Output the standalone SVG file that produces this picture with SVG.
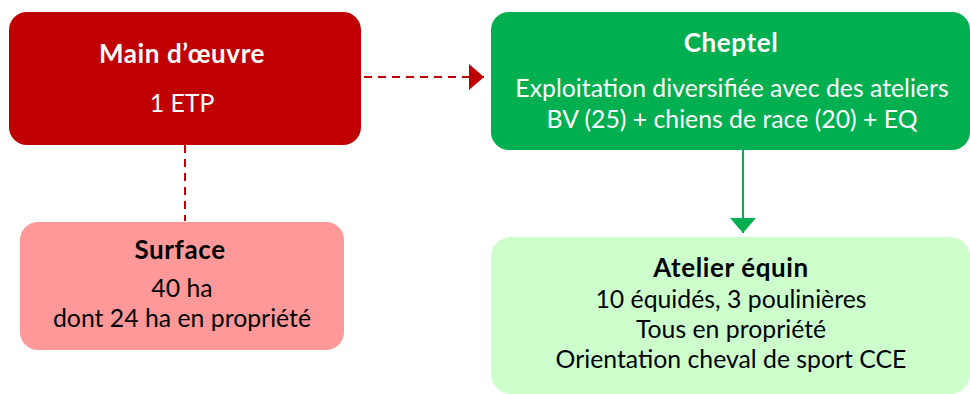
<svg xmlns="http://www.w3.org/2000/svg" width="970" height="394" viewBox="0 0 970 394">
<style>
text{font-family:Lato,"Liberation Sans",sans-serif;font-size:24.8px;text-anchor:middle}
.b{font-weight:bold;font-size:26px;letter-spacing:0.6px}
.w{fill:#ffffff}
.k{fill:#000000}
.dash{stroke:#C00000;stroke-width:2;stroke-dasharray:8,6;fill:none}
.solid{stroke:#00B050;stroke-width:2;fill:none}
</style>
<defs>
<marker id="ar" markerWidth="16" markerHeight="26" refX="15" refY="13" orient="auto" markerUnits="userSpaceOnUse"><path d="M0,0 L15,13 L0,26 Z" fill="#C00000"/></marker>
<marker id="ag" markerWidth="16" markerHeight="26" refX="15" refY="13" orient="auto" markerUnits="userSpaceOnUse"><path d="M0,0 L15,13 L0,26 Z" fill="#00B050"/></marker>
</defs>
<g id="connectors">
<path class="dash" d="M364,77 H484" marker-end="url(#ar)"/>
<path class="dash" d="M185,145 V221"/>
<path class="solid" d="M743,150 V233" marker-end="url(#ag)"/>
</g>
<g id="main-oeuvre">
<rect x="9" y="12" width="352" height="133" rx="18" fill="#C00000"/>
<text class="b w" x="182" y="63">Main d’œuvre</text>
<text class="w" x="182" y="112">1 ETP</text>
</g>
<g id="cheptel">
<rect x="491" y="12" width="479" height="138" rx="18" fill="#00B050"/>
<text class="b w" x="731" y="52">Cheptel</text>
<text class="w" x="732" y="97">Exploitation diversifiée avec des ateliers</text>
<text class="w" x="732" y="128">BV (25) + chiens de race (20) + EQ</text>
</g>
<g id="surface">
<rect x="20" y="222" width="324" height="128" rx="18" fill="#FF9999"/>
<text class="b k" x="180" y="259">Surface</text>
<text class="k" x="182" y="297">40 ha</text>
<text class="k" x="182" y="327">dont 24 ha en propriété</text>
</g>
<g id="atelier-equin">
<rect x="491" y="237" width="479" height="157" rx="20" fill="#CCFFCC"/>
<text class="b k" x="731" y="277">Atelier équin</text>
<text class="k" x="731" y="308">10 équidés, 3 poulinières</text>
<text class="k" x="731" y="338">Tous en propriété</text>
<text class="k" x="731" y="368">Orientation cheval de sport CCE</text>
</g>
</svg>
